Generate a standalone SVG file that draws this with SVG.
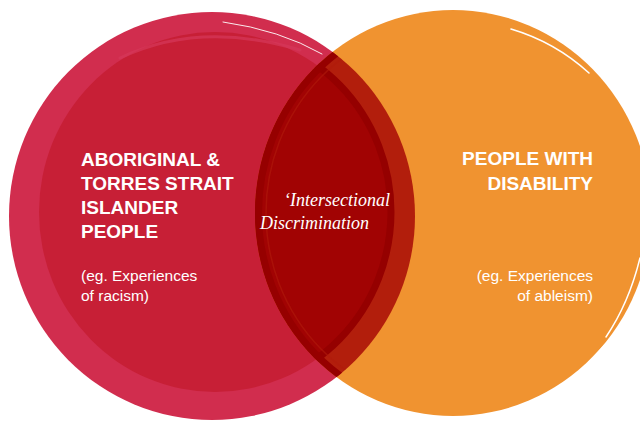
<svg xmlns="http://www.w3.org/2000/svg" width="640" height="425" viewBox="0 0 640 425">
  <defs>
    <clipPath id="clipOrange">
      <ellipse cx="453" cy="213" rx="198" ry="203"/>
    </clipPath>
    <clipPath id="clipLeft">
      <ellipse cx="212" cy="216" rx="203" ry="204"/>
    </clipPath>
    <style>
      .head { font-family: "Liberation Sans", Arial, sans-serif; font-weight: bold; font-size: 19px; fill: #ffffff; }
      .sub { font-family: "Liberation Sans", Arial, sans-serif; font-size: 15.5px; fill: #ffffff; }
      .script { font-family: "Liberation Serif", "DejaVu Serif", serif; font-style: italic; font-size: 18px; fill: #ffffff; }
      .gap { fill: none; stroke: #ffffff; stroke-linecap: round; }
    </style>
  </defs>
  <rect width="640" height="425" fill="#ffffff"/>

  <g id="aboriginal-torres-strait-islander-people">
    <ellipse cx="212" cy="216" rx="203" ry="204" fill="#d12d4e"/>
    <ellipse cx="215" cy="212" rx="176" ry="180" fill="#c71f36"/>
    <path d="M120,58 Q200,20 300,50" fill="none" stroke="#d5385a" stroke-width="3" stroke-linecap="round" opacity="0.7"/>
    <path class="gap" d="M223,22 Q280,30 322,54" stroke-width="0.9"/>
  </g>

  <g id="people-with-disability">
    <ellipse cx="453" cy="213" rx="198" ry="203" fill="#f09330"/>
    <path class="gap" d="M511,29 Q555,42 589,73" stroke-width="1.6"/>
    <path class="gap" d="M640,258 Q629,303 606,337" stroke-width="1.5"/>
    <path class="gap" d="M604,345 Q597,353 588,362" stroke-width="0.8" opacity="0.8"/>
  </g>

  <g id="intersectional-discrimination">
    <g clip-path="url(#clipOrange)">
      <ellipse cx="212" cy="216" rx="203" ry="204" fill="#b21e0c"/>
      <ellipse cx="215" cy="212" rx="176" ry="180" fill="#a10303"/>
      <ellipse cx="215" cy="212" rx="176" ry="180" fill="none" stroke="#950000" stroke-width="7"/>
      <g clip-path="url(#clipLeft)">
        <ellipse cx="453" cy="213" rx="198" ry="203" fill="none" stroke="#960000" stroke-width="14"/>
        <ellipse cx="453" cy="213" rx="187" ry="192" fill="none" stroke="#b01a0c" stroke-width="1.5" opacity="0.6"/>
      </g>
    </g>
    <text class="script" x="284" y="206">‘Intersectional</text>
    <text class="script" x="260" y="229">Discrimination</text>
  </g>

  <g id="left-labels">
    <text class="head" x="81" y="166">ABORIGINAL &amp;</text>
    <text class="head" x="81" y="190">TORRES STRAIT</text>
    <text class="head" x="81" y="214">ISLANDER</text>
    <text class="head" x="81" y="238">PEOPLE</text>
    <text class="sub" x="81" y="281">(eg. Experiences</text>
    <text class="sub" x="81" y="301">of racism)</text>
  </g>

  <g id="right-labels" text-anchor="end">
    <text class="head" x="593" y="165">PEOPLE WITH</text>
    <text class="head" x="593" y="190">DISABILITY</text>
    <text class="sub" x="593" y="281">(eg. Experiences</text>
    <text class="sub" x="593" y="301">of ableism)</text>
  </g>

  <g id="connectors"/>
</svg>
